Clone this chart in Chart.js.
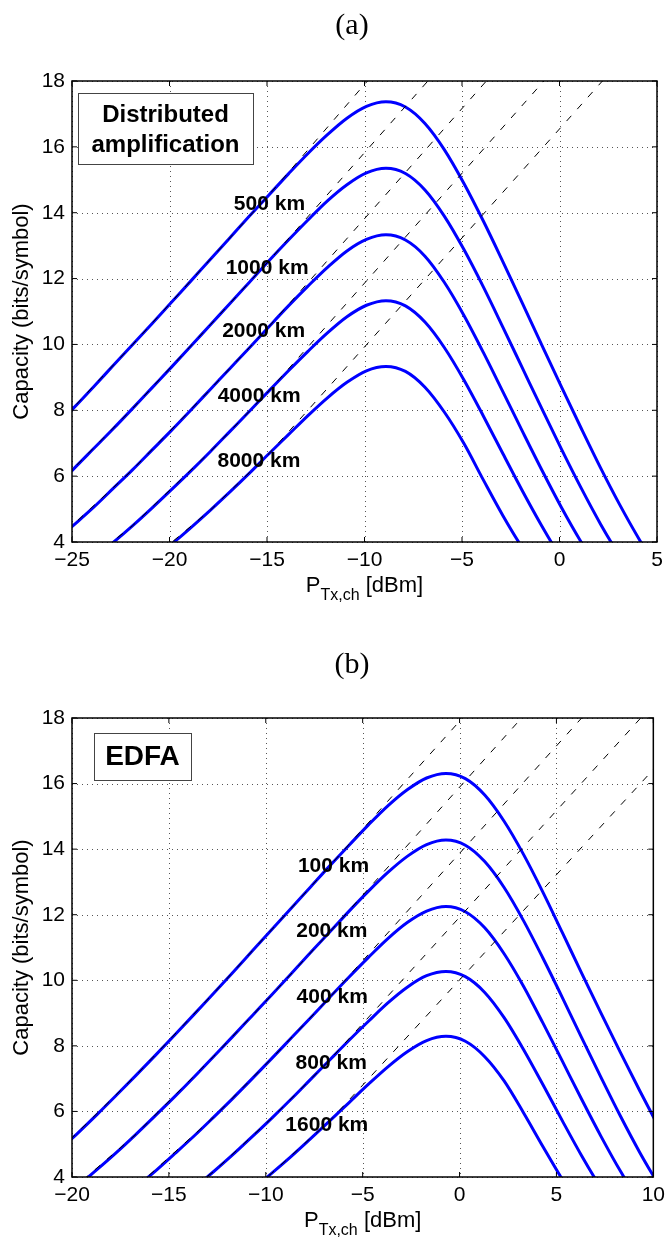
<!DOCTYPE html>
<html>
<head>
<meta charset="utf-8">
<script src="https://cdn.jsdelivr.net/npm/chart.js@4.4.1/dist/chart.umd.min.js"></script>
<style>
  html, body { margin: 0; padding: 0; background: #fff; }
  body { width: 671px; height: 1243px; position: relative; overflow: hidden; }
  canvas { position: absolute; left: 0; }
  #chartA { top: 0; }
  #chartB { top: 621px; }
</style>
</head>
<body>
<canvas id="chartA" width="671" height="621"></canvas>
<canvas id="chartB" width="671" height="622"></canvas>
<script>
// ---------- panel (a): distributed amplification ----------
// launch power samples (dBm) and capacity (bits/symbol)
const pA = [-25.9, -24.9, -23.9, -22.9, -21.9, -20.9, -19.9, -18.9, -17.9, -16.9, -15.9, -14.9, -13.9, -12.9, -11.9, -10.9,
  -9.9, -8.9, -7.9, -6.9, -5.9, -4.9, -3.9, -2.9, -1.9, -0.9, 0.1, 1.1, 2.1, 3.1, 4.1, 5.1];
const capA500 = [7.47, 8.08, 8.71, 9.35, 9.99, 10.63, 11.28, 11.93, 12.59, 13.24, 13.90, 14.54, 15.18, 15.80, 16.37, 16.87,
  17.23, 17.37, 17.21, 16.71, 15.91, 14.89, 13.74, 12.51, 11.25, 9.97, 8.71, 7.47, 6.26, 5.12, 4.07, 3.12];
const capA1000 = [5.65, 6.23, 6.83, 7.43, 8.05, 8.68, 9.31, 9.95, 10.60, 11.24, 11.89, 12.54, 13.17, 13.78, 14.36, 14.85,
  15.21, 15.35, 15.19, 14.69, 13.89, 12.88, 11.74, 10.52, 9.28, 8.04, 6.82, 5.65, 4.55, 3.56, 2.68, 1.95];
const capA2000 = [4.00, 4.52, 5.05, 5.62, 6.19, 6.79, 7.39, 8.01, 8.64, 9.27, 9.90, 10.54, 11.17, 11.77, 12.34, 12.84,
  13.19, 13.33, 13.17, 12.68, 11.88, 10.88, 9.75, 8.56, 7.36, 6.18, 5.05, 4.01, 3.07, 2.28, 1.63, 1.13];
const capA4000 = [2.63, 3.05, 3.50, 3.98, 4.49, 5.03, 5.59, 6.16, 6.75, 7.36, 7.97, 8.59, 9.20, 9.79, 10.35, 10.84,
  11.19, 11.33, 11.17, 10.68, 9.90, 8.92, 7.82, 6.68, 5.55, 4.48, 3.49, 2.63, 1.91, 1.35, 0.92, 0.61];
const capA8000 = [1.58, 1.88, 2.22, 2.59, 3.00, 3.45, 3.93, 4.44, 4.97, 5.52, 6.09, 6.68, 7.26, 7.84, 8.38, 8.85,
  9.20, 9.33, 9.18, 8.70, 7.94, 6.99, 5.88, 4.80, 3.82, 2.97, 2.21, 1.58, 1.09, 0.74, 0.49, 0.32];
const spansA = ['500 km', '1000 km', '2000 km', '4000 km', '8000 km'];
const labelPA = [-16.7, -17.12, -17.3, -17.53, -17.54];
const labelCA = [14.27, 12.33, 10.4, 8.43, 6.46];
// where each dashed (linear) asymptote leaves the top of the plot
const guideTopA = [-9.85, -6.75, -3.75, -0.8, 2.2];
const guideIdxA = [0, 4, 8, 11];
const xTicksA = [-25, -20, -15, -10, -5, 0, 5];

// ---------- panel (b): EDFA ----------
const pB = [-20.7, -19.7, -18.7, -17.7, -16.7, -15.7, -14.7, -13.7, -12.7, -11.7, -10.7, -9.7, -8.7, -7.7, -6.7, -5.7,
  -4.7, -3.7, -2.7, -1.7, -0.7, 0.3, 1.3, 2.3, 3.3, 4.3, 5.3, 6.3, 7.3, 8.3, 9.3, 10.3];
const capB100 = [4.79, 5.34, 5.91, 6.50, 7.10, 7.71, 8.33, 8.96, 9.60, 10.24, 10.89, 11.54, 12.19, 12.84, 13.49, 14.12,
  14.74, 15.32, 15.81, 16.17, 16.31, 16.15, 15.65, 14.85, 13.84, 12.69, 11.46, 10.22, 9.00, 7.80, 6.63, 5.50];
const capB200 = [3.26, 3.73, 4.23, 4.75, 5.30, 5.87, 6.45, 7.05, 7.67, 8.29, 8.92, 9.55, 10.19, 10.84, 11.47, 12.11,
  12.72, 13.29, 13.78, 14.14, 14.28, 14.12, 13.62, 12.83, 11.82, 10.68, 9.48, 8.25, 7.04, 5.86, 4.75, 3.73];
const capB400 = [2.05, 2.40, 2.80, 3.23, 3.69, 4.18, 4.71, 5.25, 5.82, 6.40, 7.00, 7.61, 8.23, 8.85, 9.48, 10.10,
  10.70, 11.27, 11.76, 12.11, 12.25, 12.09, 11.60, 10.81, 9.82, 8.70, 7.54, 6.37, 5.24, 4.18, 3.23, 2.40];
const capB800 = [1.19, 1.44, 1.72, 2.03, 2.39, 2.78, 3.21, 3.67, 4.16, 4.68, 5.23, 5.79, 6.37, 6.97, 7.57, 8.17,
  8.75, 9.31, 9.79, 10.14, 10.27, 10.11, 9.63, 8.86, 7.89, 6.82, 5.72, 4.65, 3.66, 2.78, 2.03, 1.44];
const capB1600 = [0.65, 0.79, 0.96, 1.17, 1.41, 1.68, 2.00, 2.35, 2.74, 3.16, 3.62, 4.11, 4.62, 5.16, 5.71, 6.27,
  6.83, 7.36, 7.82, 8.16, 8.29, 8.14, 7.67, 6.93, 5.96, 4.93, 3.93, 3.02, 2.26, 1.65, 1.15, 0.78];
const spansB = ['100 km', '200 km', '400 km', '800 km', '1600 km'];
const labelPB = [-8.34, -8.43, -8.41, -8.46, -8.99];
const labelCB = [13.48, 11.49, 9.49, 7.48, 5.57];
const guideTopB = [0.15, 3.2, 6.3, 9.35, 12.45];
const guideIdxB = [0, 4, 8, 11, 14];
const xTicksB = [-20, -15, -10, -5, 0, 5, 10];

const yTicks = [4, 6, 8, 10, 12, 14, 16, 18];

const SANS = '"Liberation Sans", Arial, Helvetica, sans-serif';
const SERIF = '"Liberation Serif", "Times New Roman", serif';

function fmtTick(v) {
  return v < 0 ? '\u2212' + Math.abs(v) : String(v);
}

function line(ctx, x1, y1, x2, y2) {
  ctx.beginPath();
  ctx.moveTo(x1, y1);
  ctx.lineTo(x2, y2);
  ctx.stroke();
}

// matlab style frame: dotted grid, closed box, inward ticks, labels
const framePlugin = {
  id: 'frame',
  beforeDatasetsDraw(chart) {
    const {ctx, chartArea: a, scales: {x, y}} = chart;
    ctx.save();
    ctx.strokeStyle = '#555';
    ctx.lineWidth = 1;
    ctx.setLineDash([1, 4]);
    x.ticks.forEach(t => {
      const px = Math.round(x.getPixelForValue(t.value)) + 0.5;
      line(ctx, px, a.top, px, a.bottom);
    });
    y.ticks.forEach(t => {
      const py = Math.round(y.getPixelForValue(t.value)) + 0.5;
      line(ctx, a.left, py, a.right, py);
    });
    ctx.restore();
  },
  afterDatasetsDraw(chart, args, opts) {
    const {ctx, chartArea: a, scales: {x, y}} = chart;
    ctx.save();
    ctx.strokeStyle = '#000';
    ctx.lineWidth = 1.5;
    ctx.strokeRect(a.left, a.top, a.right - a.left, a.bottom - a.top);
    ctx.lineWidth = 1;
    x.ticks.forEach(t => {
      const px = x.getPixelForValue(t.value);
      line(ctx, px, a.bottom, px, a.bottom - 5);
      line(ctx, px, a.top, px, a.top + 5);
    });
    y.ticks.forEach(t => {
      const py = y.getPixelForValue(t.value);
      line(ctx, a.left, py, a.left + 5, py);
      line(ctx, a.right, py, a.right - 5, py);
    });

    // distance labels next to the curves
    ctx.fillStyle = '#000';
    ctx.font = 'bold 21px ' + SANS;
    ctx.textAlign = 'left';
    ctx.textBaseline = 'middle';
    opts.labels.forEach((s, i) => {
      ctx.fillText(s, x.getPixelForValue(opts.labelP[i]), y.getPixelForValue(opts.labelC[i]));
    });

    // boxed note in the corner
    const b = opts.box;
    const bx = a.left + b.left, by = a.top + b.top;
    ctx.fillStyle = '#fff';
    ctx.fillRect(bx, by, b.width, b.height);
    ctx.strokeStyle = '#444';
    ctx.strokeRect(bx + 0.5, by + 0.5, b.width, b.height);
    ctx.fillStyle = '#000';
    ctx.font = 'bold ' + b.size + 'px ' + SANS;
    ctx.textAlign = 'center';
    b.lines.forEach((s, i) => ctx.fillText(s, bx + b.width / 2, by + b.lineY[i]));

    // x axis title with subscript: P_Tx,ch [dBm]
    const parts = [['P', '22px ' + SANS, 0], ['Tx,ch', '16px ' + SANS, 8], [' [dBm]', '22px ' + SANS, 0]];
    let total = 0;
    parts.forEach(p => { ctx.font = p[1]; total += ctx.measureText(p[0]).width; });
    let cx = (a.left + a.right) / 2 - total / 2;
    const base = a.bottom + 50;
    ctx.textAlign = 'left';
    ctx.textBaseline = 'alphabetic';
    parts.forEach(p => {
      ctx.font = p[1];
      ctx.fillText(p[0], cx, base + p[2]);
      cx += ctx.measureText(p[0]).width;
    });

    // panel caption (a)/(b)
    ctx.font = opts.caption.size + 'px ' + SERIF;
    ctx.textAlign = 'center';
    ctx.fillText(opts.caption.text, opts.caption.x, opts.caption.y);
    ctx.restore();
  }
};

function makePanel(id, cfg) {
  const datasets = [];
  // dashed asymptotes first so they sit on top of the blue curves
  cfg.curves.forEach((cap, k) => {
    const pts = cfg.guideIdx.map(i => ({x: cfg.p[i], y: cap[i]}));
    pts.push({x: cfg.guideTop[k], y: 18});
    datasets.push({
      data: pts, borderColor: '#000', borderWidth: 1, borderDash: [7, 9],
      pointRadius: 0, tension: 0, clip: 0
    });
  });
  cfg.curves.forEach(cap => {
    datasets.push({
      data: cfg.p.map((p, i) => ({x: p, y: cap[i]})),
      borderColor: '#0000ff', borderWidth: 3, pointRadius: 0,
      cubicInterpolationMode: 'monotone', clip: 0
    });
  });

  return new Chart(document.getElementById(id), {
    type: 'line',
    data: {datasets},
    options: {
      responsive: false,
      animation: false,
      devicePixelRatio: 1,
      layout: {padding: {top: cfg.top, right: 14, left: 0, bottom: 0}},
      plugins: {
        legend: {display: false},
        tooltip: {enabled: false},
        frame: {
          labels: cfg.labels, labelP: cfg.labelP, labelC: cfg.labelC,
          box: cfg.box, caption: cfg.caption
        }
      },
      scales: {
        x: {
          type: 'linear', min: cfg.xTicks[0], max: cfg.xTicks[cfg.xTicks.length - 1],
          afterBuildTicks: s => { s.ticks = cfg.xTicks.map(v => ({value: v})); },
          afterFit: s => { s.height = cfg.xAxisH; },
          grid: {display: false, drawTicks: false},
          border: {display: false},
          ticks: {
            color: '#000', font: {family: SANS, size: 21}, padding: 6,
            maxRotation: 0, autoSkip: false, callback: v => fmtTick(v)
          }
        },
        y: {
          type: 'linear', min: 4, max: 18,
          afterBuildTicks: s => { s.ticks = yTicks.map(v => ({value: v})); },
          afterFit: s => { s.width = 72; },
          grid: {display: false, drawTicks: false},
          border: {display: false},
          ticks: {color: '#000', font: {family: SANS, size: 21}, padding: 7, autoSkip: false},
          title: {
            display: true, text: 'Capacity (bits/symbol)', color: '#000',
            font: {family: SANS, size: 22}, padding: {top: 9, bottom: 0}
          }
        }
      }
    },
    plugins: [framePlugin]
  });
}

makePanel('chartA', {
  p: pA,
  curves: [capA500, capA1000, capA2000, capA4000, capA8000],
  guideIdx: guideIdxA, guideTop: guideTopA,
  labels: spansA, labelP: labelPA, labelC: labelCA,
  xTicks: xTicksA, top: 81, xAxisH: 79,
  box: {left: 6, top: 12, width: 175, height: 71, size: 24, lines: ['Distributed', 'amplification'], lineY: [22, 52]},
  caption: {text: '(a)', x: 352, y: 34, size: 30}
});

makePanel('chartB', {
  p: pB,
  curves: [capB100, capB200, capB400, capB800, capB1600],
  guideIdx: guideIdxB, guideTop: guideTopB,
  labels: spansB, labelP: labelPB, labelC: labelCB,
  xTicks: xTicksB, top: 97, xAxisH: 66,
  box: {left: 22, top: 15, width: 97, height: 47, size: 28, lines: ['EDFA'], lineY: [24]},
  caption: {text: '(b)', x: 352, y: 52, size: 30}
});
</script>
</body>
</html>
